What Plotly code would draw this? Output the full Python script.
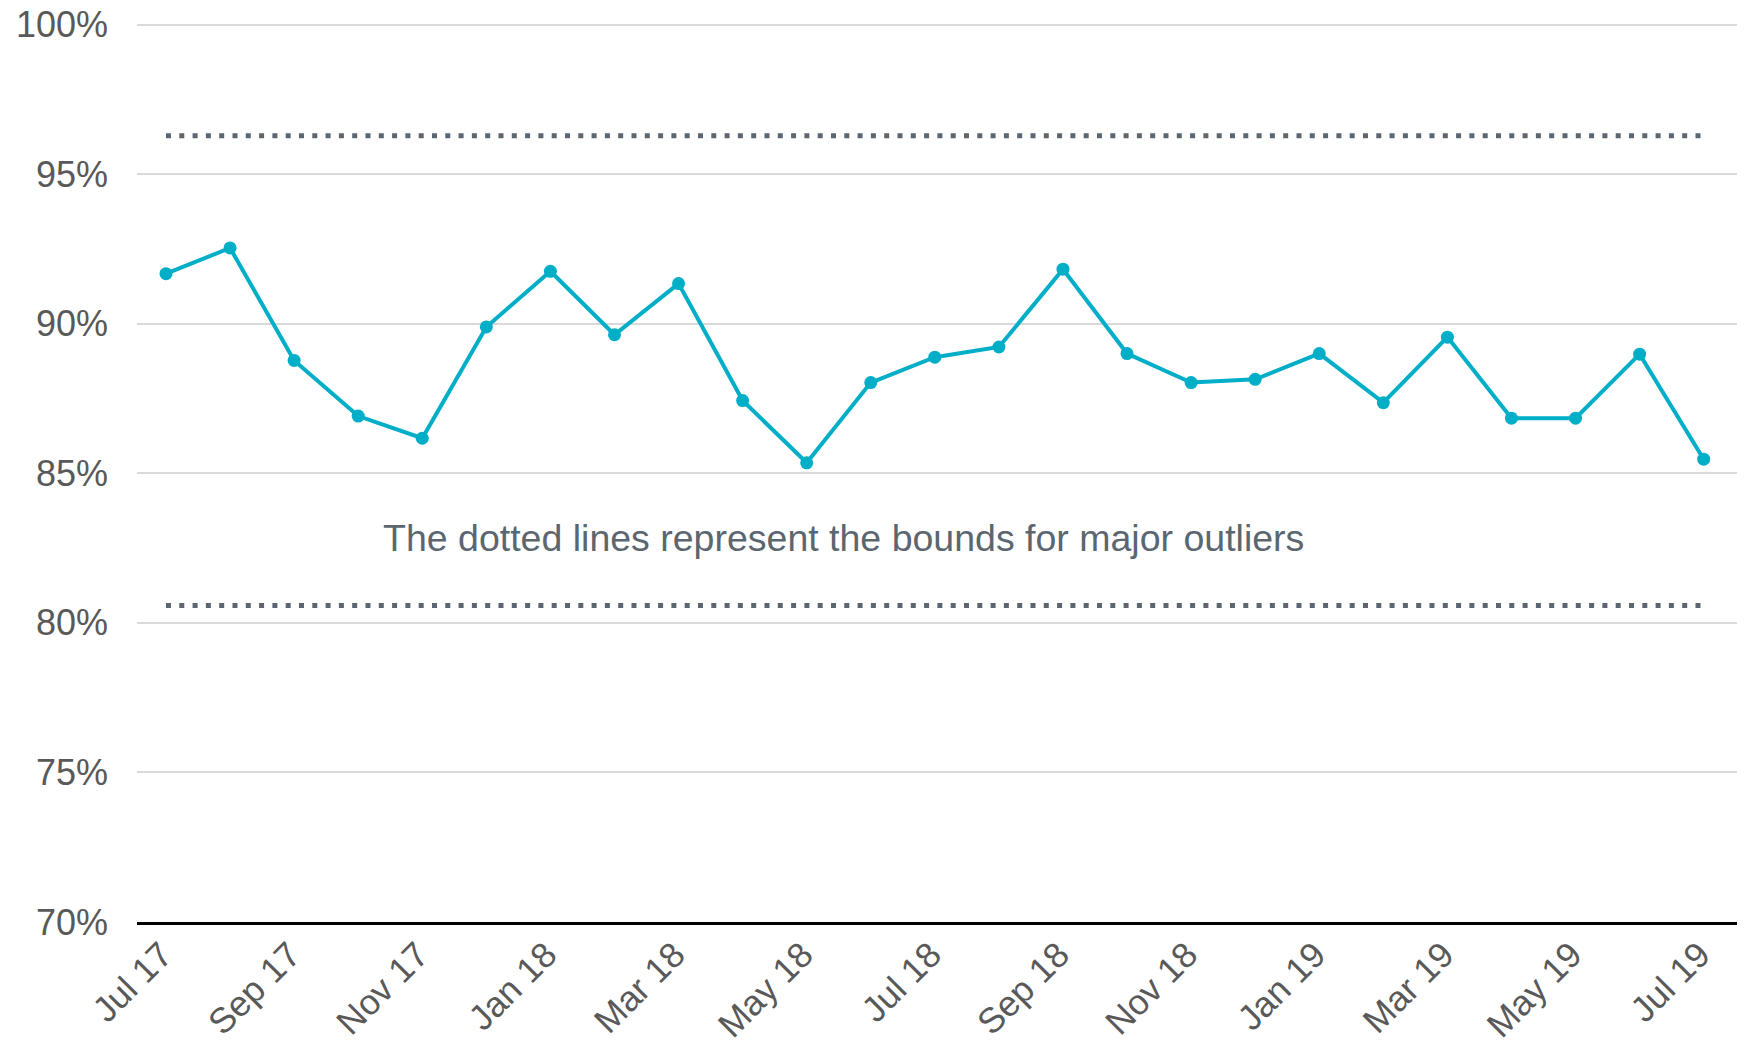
import plotly.graph_objects as go

months = ["Jul 17", "Aug 17", "Sep 17", "Oct 17", "Nov 17", "Dec 17",
          "Jan 18", "Feb 18", "Mar 18", "Apr 18", "May 18", "Jun 18",
          "Jul 18", "Aug 18", "Sep 18", "Oct 18", "Nov 18", "Dec 18",
          "Jan 19", "Feb 19", "Mar 19", "Apr 19", "May 19", "Jun 19", "Jul 19"]
values = [91.67, 92.53, 88.77, 86.91, 86.17, 89.89,
          91.75, 89.63, 91.34, 87.43, 85.35, 88.03,
          88.88, 89.22, 91.82, 89.0, 88.03, 88.14,
          89.0, 87.36, 89.55, 86.84, 86.84, 88.98, 85.47]
upper_bound = 96.28
lower_bound = 80.58
tick_labels = months[::2]
y_ticks = [70, 75, 80, 85, 90, 95, 100]
note = "The dotted lines represent the bounds for major outliers"

FONT = "Liberation Sans, Arial, sans-serif"
LINE_COLOR = "#00AEC7"
DOT_COLOR = "#5B6670"

fig = go.Figure()
for b in (upper_bound, lower_bound):
    fig.add_trace(go.Scatter(
        x=months, y=[b] * len(months), mode="lines",
        line=dict(color=DOT_COLOR, width=5, dash="5px,8.3px"),
        hoverinfo="skip", showlegend=False))

fig.add_trace(go.Scatter(
    x=months, y=values, mode="lines+markers",
    line=dict(color=LINE_COLOR, width=4),
    marker=dict(color=LINE_COLOR, size=13),
    showlegend=False))

fig.add_annotation(
    x=10.57, y=82.84, xref="x", yref="y", text=note, showarrow=False,
    font=dict(family=FONT, size=37.5, color=DOT_COLOR),
    xanchor="center", yanchor="middle")

fig.update_layout(
    width=1730, height=1038,
    margin=dict(l=129, r=1, t=15, b=124),
    plot_bgcolor="white", paper_bgcolor="white",
    font=dict(family=FONT, color="#595959"),
    showlegend=False,
    xaxis=dict(
        type="category", range=[-0.4525, 24.52],
        tickmode="array", tickvals=tick_labels, ticktext=tick_labels,
        tickangle=-45, tickfont=dict(family=FONT, size=35.5, color="#595959"),
        showgrid=False, zeroline=False, automargin=False,
        showline=True, linecolor="#000000", linewidth=2.5,
        ticks="", ticklabelstandoff=-5, ticklabelshift=-4,
        ticklabeloverflow="allow",
    ),
    yaxis=dict(
        range=[70, 100.05], tickmode="array", tickvals=y_ticks,
        ticktext=[f"{v}%" for v in y_ticks],
        tickfont=dict(family=FONT, size=36, color="#595959"),
        showgrid=True, gridcolor="#D9D9D9", gridwidth=2, automargin=False,
        zeroline=False, showline=False, ticks="", ticklabelstandoff=28,
        ticklabeloverflow="allow",
    ),
)

fig.write_html("out.html")
